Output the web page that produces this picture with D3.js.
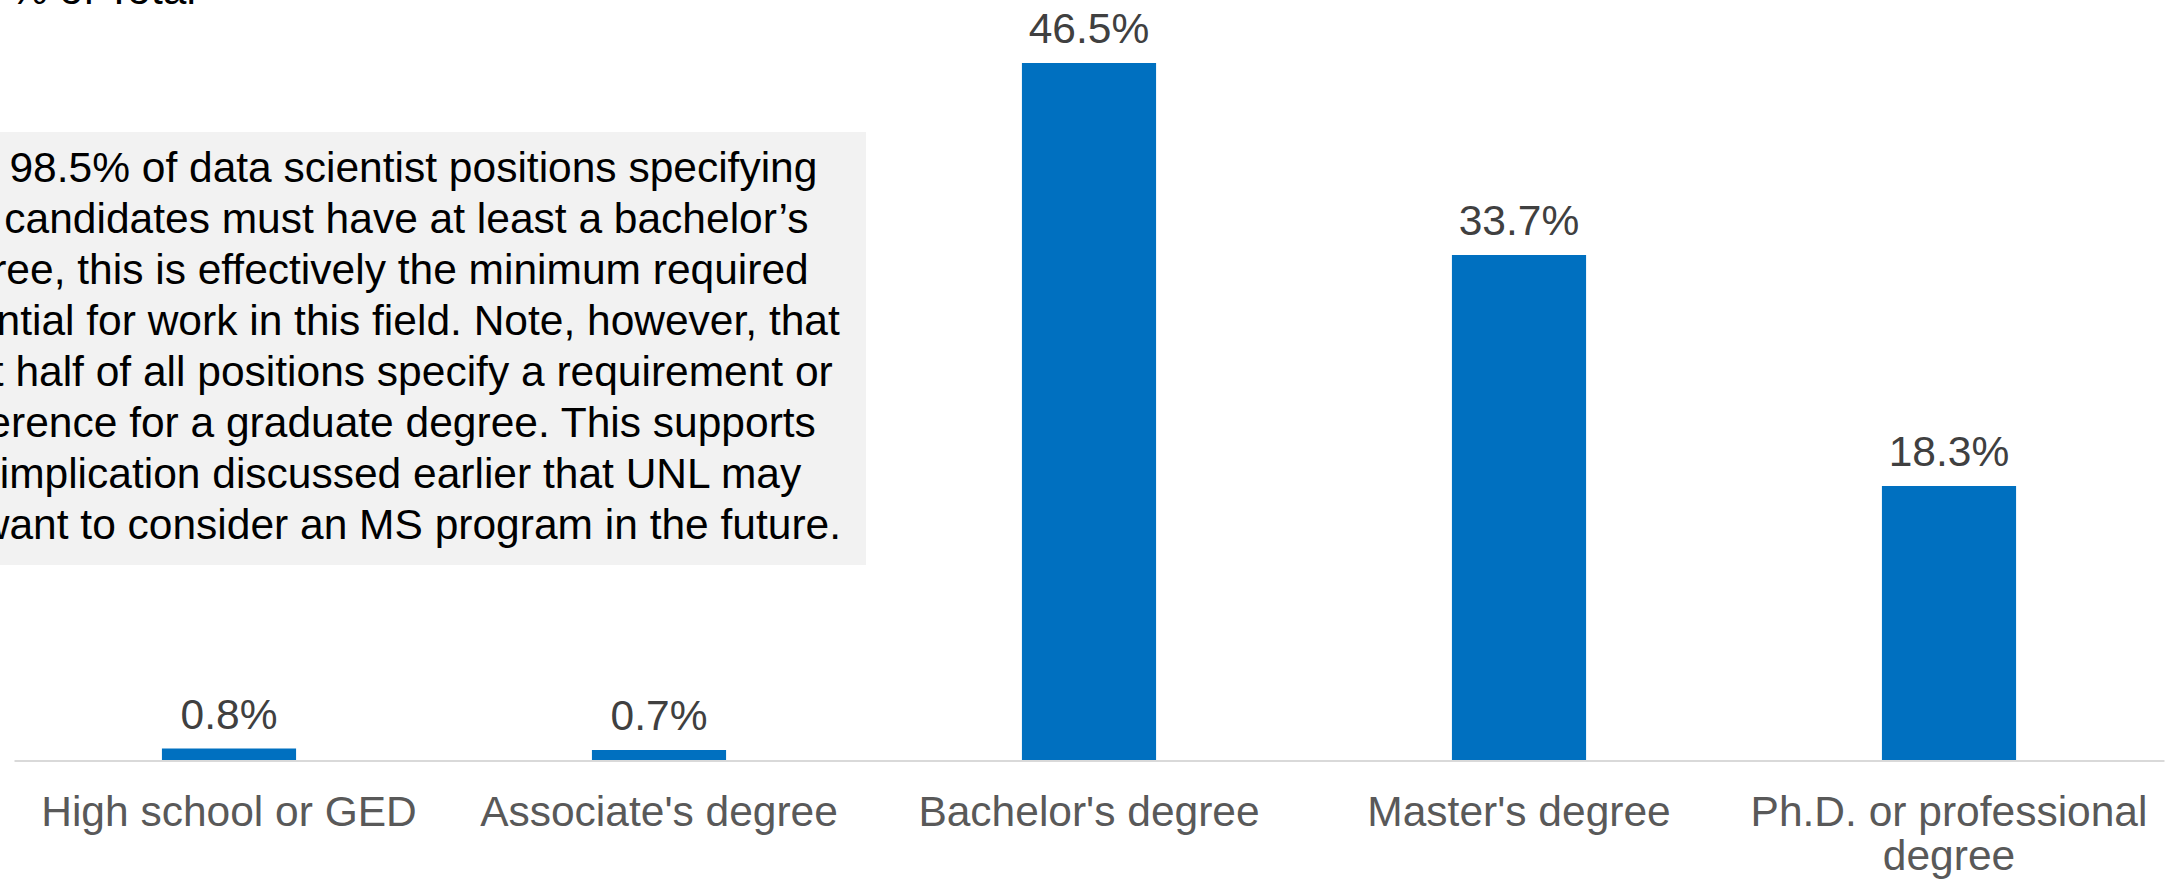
<!DOCTYPE html>
<html>
<head>
<meta charset="utf-8">
<script src="https://cdn.jsdelivr.net/npm/d3@7/dist/d3.min.js"></script>
<style>
  html, body { margin: 0; padding: 0; background: #fff; }
  svg { display: block; font-family: "Liberation Sans", Arial, sans-serif; }
</style>
</head>
<body>
<script>
// Education level required in data scientist postings (% of total)
const categories = [
  "High school or GED",
  "Associate's degree",
  "Bachelor's degree",
  "Master's degree",
  "Ph.D. or professional degree"
];
const shares = [0.8, 0.7, 46.5, 33.7, 18.3];
// category labels as they wrap under the axis
const categoryLines = [
  ["High school or GED"],
  ["Associate's degree"],
  ["Bachelor's degree"],
  ["Master's degree"],
  ["Ph.D. or professional", "degree"]
];
const axisTitle = "% of Total";
const noteLines = [
  "With 98.5% of data scientist positions specifying",
  "that candidates must have at least a bachelor\u2019s",
  "degree, this is effectively the minimum required",
  "credential for work in this field. Note, however, that",
  "about half of all positions specify a requirement or",
  "preference for a graduate degree. This supports",
  "the implication discussed earlier that UNL may",
  "also want to consider an MS program in the future."
];

const W = 2172, H = 881;
const svg = d3.select("body").append("svg")
  .attr("width", W).attr("height", H);

const x = d3.scaleBand()
  .domain(categories)
  .range([14, 2164])
  .paddingInner(0.688)
  .paddingOuter(0.344);

const y = d3.scaleLinear()
  .domain([0, 50])
  .range([760.5, 10.5]);

// axis title, partly above the top edge
svg.append("text")
  .attr("x", 10).attr("y", 4)
  .attr("font-size", 42.5)
  .attr("fill", "#000")
  .text(axisTitle);

// bars
svg.append("g").selectAll("rect")
  .data(shares)
  .join("rect")
  .attr("x", (d, i) => x(categories[i]))
  .attr("width", x.bandwidth())
  .attr("y", d => y(d))
  .attr("height", d => y(0) - y(d))
  .attr("fill", "#0070C0");

// value labels
svg.append("g").selectAll("text")
  .data(shares)
  .join("text")
  .attr("x", (d, i) => x(categories[i]) + x.bandwidth() / 2)
  .attr("y", d => y(d) - 20)
  .attr("text-anchor", "middle")
  .attr("font-size", 42.5)
  .attr("fill", "#404040")
  .text(d => d.toFixed(1) + "%");

// category axis
const axis = svg.append("g")
  .attr("transform", `translate(0,${y(0)})`)
  .call(d3.axisBottom(x).tickSize(0).tickSizeOuter(0).tickFormat(""));
axis.select(".domain").attr("stroke", "#D9D9D9").attr("stroke-width", 2);
axis.selectAll(".tick text").remove();

const labels = axis.selectAll(".tick")
  .append("text")
  .attr("text-anchor", "middle")
  .attr("font-size", 42.5)
  .attr("fill", "#595959")
  .attr("font-family", "'Liberation Sans', Arial, sans-serif");
labels.each(function(d, i) {
  const t = d3.select(this);
  categoryLines[i].forEach((line, k) => {
    t.append("tspan").attr("x", 0).attr("y", 65.5 + k * 44).text(line);
  });
});

// annotation box
const note = svg.append("g");
note.append("rect")
  .attr("x", -136).attr("y", 132)
  .attr("width", 1002).attr("height", 433)
  .attr("fill", "#F2F2F2");
note.append("text")
  .attr("text-anchor", "middle")
  .attr("font-size", 42.5)
  .attr("fill", "#000")
  .selectAll("tspan")
  .data(noteLines)
  .join("tspan")
  .attr("x", 365)
  .attr("y", (d, i) => 182 + i * 51)
  .text(d => d);
</script>
</body>
</html>
